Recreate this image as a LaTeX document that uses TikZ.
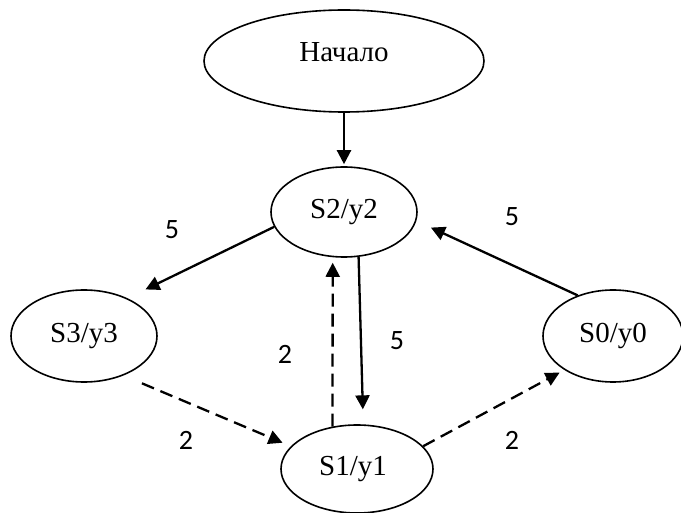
\documentclass[tikz,border=0pt]{standalone}
\usepackage{fontspec}
\setmainfont{Liberation Serif}
\newfontfamily\lblfont{Carlito}
\usetikzlibrary{shapes.geometric,arrows.meta}
\begin{document}
\begin{tikzpicture}[x=1pt,y=-1pt,
  st/.style={ellipse, draw, line width=1.6pt, inner sep=0pt, font=\fontsize{29}{35}\selectfont},
  solidarr/.style={line width=2.3pt, -{Triangle[length=14pt,width=14pt]}},
  dasharr/.style={line width=2.3pt, dash pattern=on 13pt off 7pt, -{Triangle[length=14pt,width=14pt]}},
  lbl/.style={font=\lblfont\fontsize{28}{33}\selectfont, inner sep=0pt}]
\useasboundingbox (0,0) rectangle (681,513);
\node[st, minimum width=280pt, minimum height=102pt,
  label={[font=\fontsize{29}{35}\selectfont, yshift=9pt]center:Начало}] (start) at (344,61) {};
\node[st, minimum width=146pt, minimum height=90pt] (S2) at (344,212) {\raisebox{4pt}{S2/y2}};
\node[st, minimum width=146pt, minimum height=92pt] (S3) at (84,336) {\raisebox{3pt}{S3/y3}};
\node[st, minimum width=140pt, minimum height=92pt] (S0) at (613,336) {\raisebox{4pt}{S0/y0}};
\node[st, minimum width=152pt, minimum height=88pt] (S1) at (357,469) {\hspace*{-8pt}\raisebox{4pt}{S1/y1}};

\draw[solidarr, shorten >=2pt] (start) -- (S2);
\draw[solidarr, shorten >=20pt] (S2.192) -- (S3.41);
\draw[solidarr, shorten >=16pt] (S0.131) -- (S2.-7);
\draw[solidarr, shorten >=15pt] (S2.-72) -- (S1.82);
\draw[dasharr, shorten >=5.5pt] (S1.120) -- (S2.256);
\draw[dasharr, shorten <=20pt, shorten >=9pt] (S3.-45) -- (S1.161);
\draw[dasharr, shorten >=5.5pt] (S1.19) -- (S0.215);

\node[lbl] (l1) at (172,230) {5};
\node[lbl] (l2) at (512,217) {5};
\node[lbl] (l3) at (397,341) {5};
\node[lbl] (l4) at (285,354) {2};
\node[lbl] (l5) at (186,440) {2};
\node[lbl] (l6) at (512,440) {2};
\end{tikzpicture}
\end{document}
